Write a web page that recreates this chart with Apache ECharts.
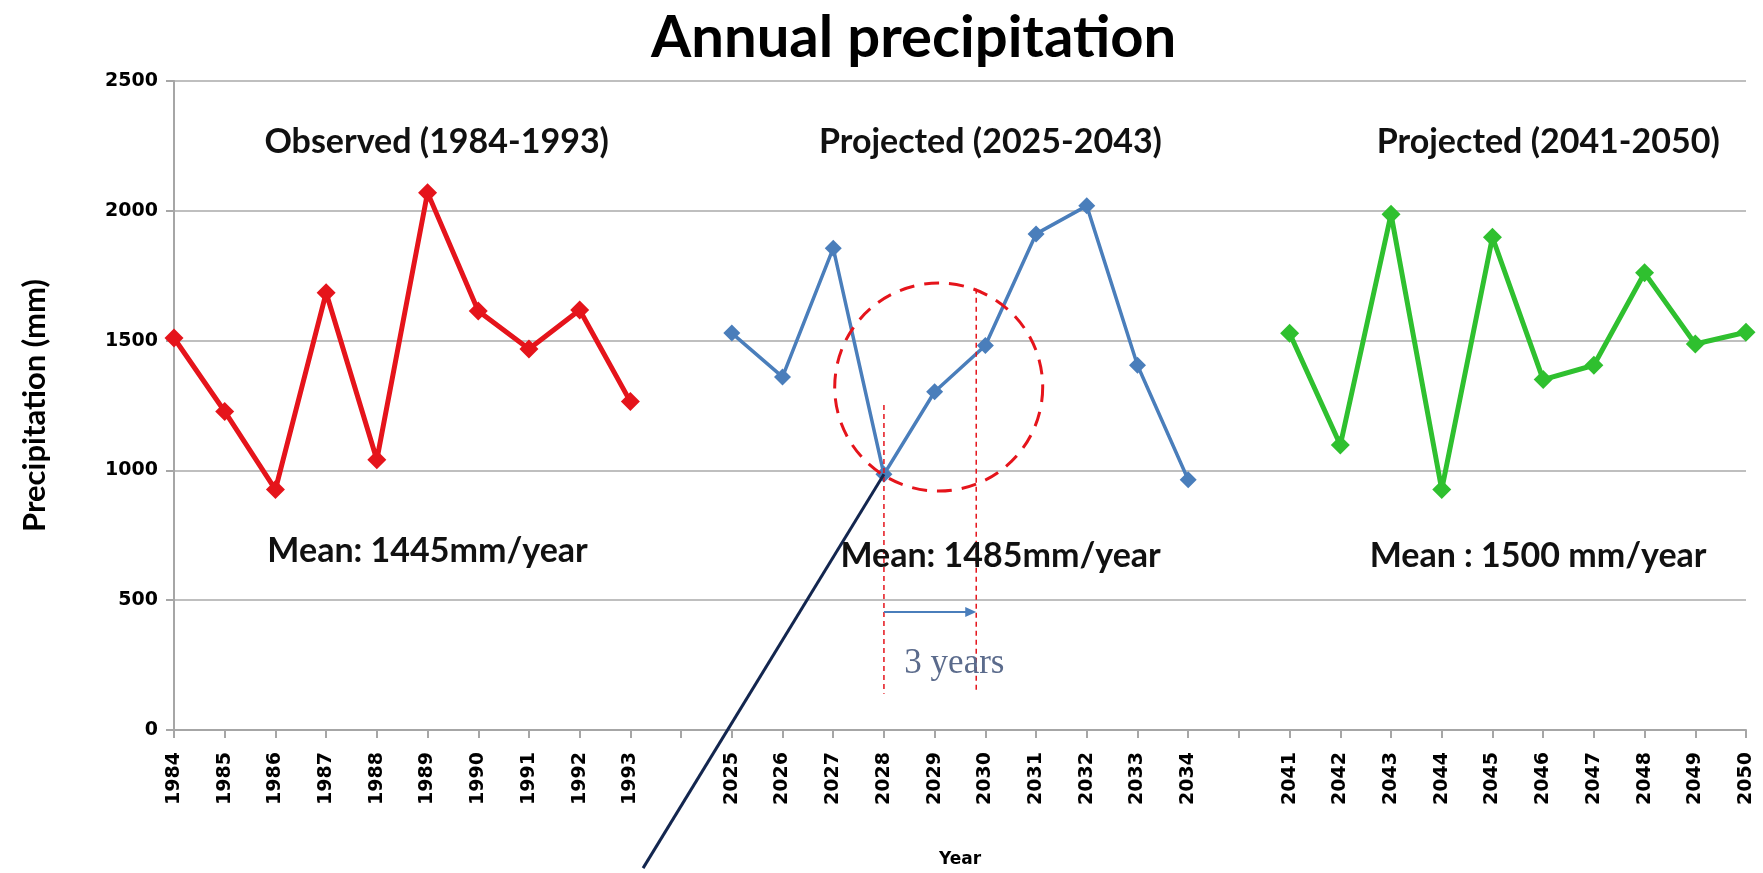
<!DOCTYPE html>
<html>
<head>
<meta charset="utf-8">
<script src="https://cdn.jsdelivr.net/npm/echarts@6/dist/echarts.min.js"></script>
<style>
html,body{margin:0;padding:0;background:#fff;}
#main{width:1763px;height:873px;}
</style>
</head>
<body>
<div id="main"></div>
<script>
// ---- data ----
const observedYears = ['1984','1985','1986','1987','1988','1989','1990','1991','1992','1993'];
const projected1Years = ['2025','2026','2027','2028','2029','2030','2031','2032','2033','2034'];
const projected2Years = ['2041','2042','2043','2044','2045','2046','2047','2048','2049','2050'];
const observedValues = [1510, 1227, 926, 1684, 1041, 2070, 1614, 1468, 1618, 1265];
const projected1Values = [1529, 1360, 1856, 985, 1303, 1481, 1911, 2019, 1405, 964];
const projected2Values = [1528, 1098, 1987, 926, 1898, 1350, 1405, 1761, 1487, 1532];
const yTicks = [0, 500, 1000, 1500, 2000, 2500];
const groupTitles = ['Observed (1984-1993)', 'Projected (2025-2043)', 'Projected (2041-2050)'];
const meanTexts = ['Mean: 1445mm/year', 'Mean: 1485mm/year', 'Mean : 1500 mm/year'];

// categories with one blank slot between groups
const categories = [].concat(observedYears, [' '], projected1Years, ['  '], projected2Years);
const nulls = n => Array(n).fill(null);
const redData = [].concat(observedValues, nulls(22));
const blueData = [].concat(nulls(11), projected1Values, nulls(11));
const greenData = [].concat(nulls(22), projected2Values);

const RED = '#e5141b', BLUE = '#4a7ebb', GREEN = '#2fc02f';
const FONT = '"DejaVu Sans", sans-serif';
const LFONT = 'Lato, "Open Sans", sans-serif';

const chart = echarts.init(document.getElementById('main'), null, {renderer: 'canvas'});

function lineSeries(name, data, color, width, size) {
  return {
    name, type: 'line', data, connectNulls: false,
    symbol: 'diamond', symbolSize: size,
    lineStyle: {color, width},
    itemStyle: {color},
    emphasis: {disabled: true},
    z: 3
  };
}

chart.setOption({
  animation: false,
  title: {
    text: 'Annual precipitation', left: 646, top: 4,
    textStyle: {fontFamily: LFONT, fontWeight: 'bold', fontSize: 58, color: '#000'}
  },
  grid: {left: 174, right: 17, top: 81, bottom: 139},
  xAxis: {
    type: 'category', data: categories, boundaryGap: false,
    name: 'Year', nameLocation: 'middle', nameGap: 121,
    nameTextStyle: {fontFamily: FONT, fontWeight: 'bold', fontSize: 17, color: '#000'},
    axisLine: {lineStyle: {color: '#a6a6a6', width: 2}},
    axisTick: {show: true, interval: 0, length: 8, lineStyle: {color: '#a6a6a6', width: 2}},
    axisLabel: {interval: 0, rotate: 90, margin: 22, fontFamily: FONT, fontWeight: 'bold', fontSize: 19, color: '#000'},
    splitLine: {show: false}
  },
  yAxis: {
    type: 'value', min: yTicks[0], max: yTicks[yTicks.length - 1], interval: 500,
    name: 'Precipitation (mm)', nameLocation: 'middle', nameGap: 124, nameRotate: 90,
    nameTextStyle: {fontFamily: LFONT, fontWeight: 'bold', fontSize: 31, color: '#000'},
    axisLine: {show: true, lineStyle: {color: '#a6a6a6', width: 2}},
    axisTick: {show: true, length: 8, lineStyle: {color: '#a6a6a6', width: 2}},
    axisLabel: {margin: 16, fontFamily: FONT, fontWeight: 'bold', fontSize: 19, color: '#000',
      formatter: v => String(v)},
    splitLine: {show: true, lineStyle: {color: '#bfbfbf', width: 2}}
  },
  series: [
    lineSeries('Observed', redData, RED, 5, 19),
    lineSeries('Projected 2025', blueData, BLUE, 3.5, 17),
    lineSeries('Projected 2041', greenData, GREEN, 5, 19)
  ]
});

// ---- annotations placed in data space ----
function toPx(ix, val) {
  const i0 = Math.floor(ix), f = ix - i0;
  const a = chart.convertToPixel({gridIndex: 0}, [i0, val]);
  const b = chart.convertToPixel({gridIndex: 0}, [i0 + 1, val]);
  return [a[0] + f * (b[0] - a[0]), a[1]];
}

const groupTitlePos = [[5.18, 2263], [16.1, 2263], [27.1, 2263]];
const meanPos = [[5.0, 689], [16.3, 670], [26.9, 670]];
const g = [];
groupTitles.forEach((t, i) => {
  const p = toPx(groupTitlePos[i][0], groupTitlePos[i][1]);
  g.push({type: 'text', x: p[0], y: p[1], z: 10,
    style: {text: t, fill: '#111', font: 'bold 34px ' + LFONT, align: 'center', verticalAlign: 'middle'}});
});
meanTexts.forEach((t, i) => {
  const p = toPx(meanPos[i][0], meanPos[i][1]);
  g.push({type: 'text', x: p[0], y: p[1], z: 10,
    style: {text: t, fill: '#111', font: 'bold 34px ' + LFONT, align: 'center', verticalAlign: 'middle'}});
});

// dashed circle
const cc = toPx(15.08, 1321);
g.push({type: 'circle', shape: {cx: cc[0], cy: cc[1], r: 104}, z: 4,
  style: {fill: 'none', stroke: RED, lineWidth: 3, lineDash: [15, 10]}});

// vertical dashed lines
[[14, 1252, 140], [15.82, 1700, 140]].forEach(v => {
  const a = toPx(v[0], v[1]), b = toPx(v[0], v[2]);
  g.push({type: 'line', shape: {x1: a[0], y1: a[1], x2: b[0], y2: b[1]}, z: 4,
    style: {stroke: RED, lineWidth: 1.5, lineDash: [5, 4]}});
});

// arrow "3 years"
const ar0 = toPx(14, 455), ar1 = toPx(15.82, 455);
g.push({type: 'line', shape: {x1: ar0[0], y1: ar0[1], x2: ar1[0] - 8, y2: ar1[1]}, z: 5,
  style: {stroke: BLUE, lineWidth: 2}});
g.push({type: 'polygon', shape: {points: [[ar1[0], ar1[1]], [ar1[0] - 11, ar1[1] - 5], [ar1[0] - 11, ar1[1] + 5]]}, z: 5,
  style: {fill: BLUE}});
const ty = toPx(15.39, 255);
g.push({type: 'text', x: ty[0], y: ty[1], z: 5,
  style: {text: '3 years', fill: '#5b6b8c', font: '35px "Liberation Serif", "DejaVu Serif", serif', align: 'center', verticalAlign: 'middle'}});

// navy line from the 2028 point
const n0 = toPx(14, 985), n1 = toPx(9.25, -532);
g.push({type: 'line', shape: {x1: n0[0], y1: n0[1], x2: n1[0], y2: n1[1]}, z: 6,
  style: {stroke: '#13264f', lineWidth: 3}});

chart.setOption({graphic: g});
</script>
</body>
</html>
